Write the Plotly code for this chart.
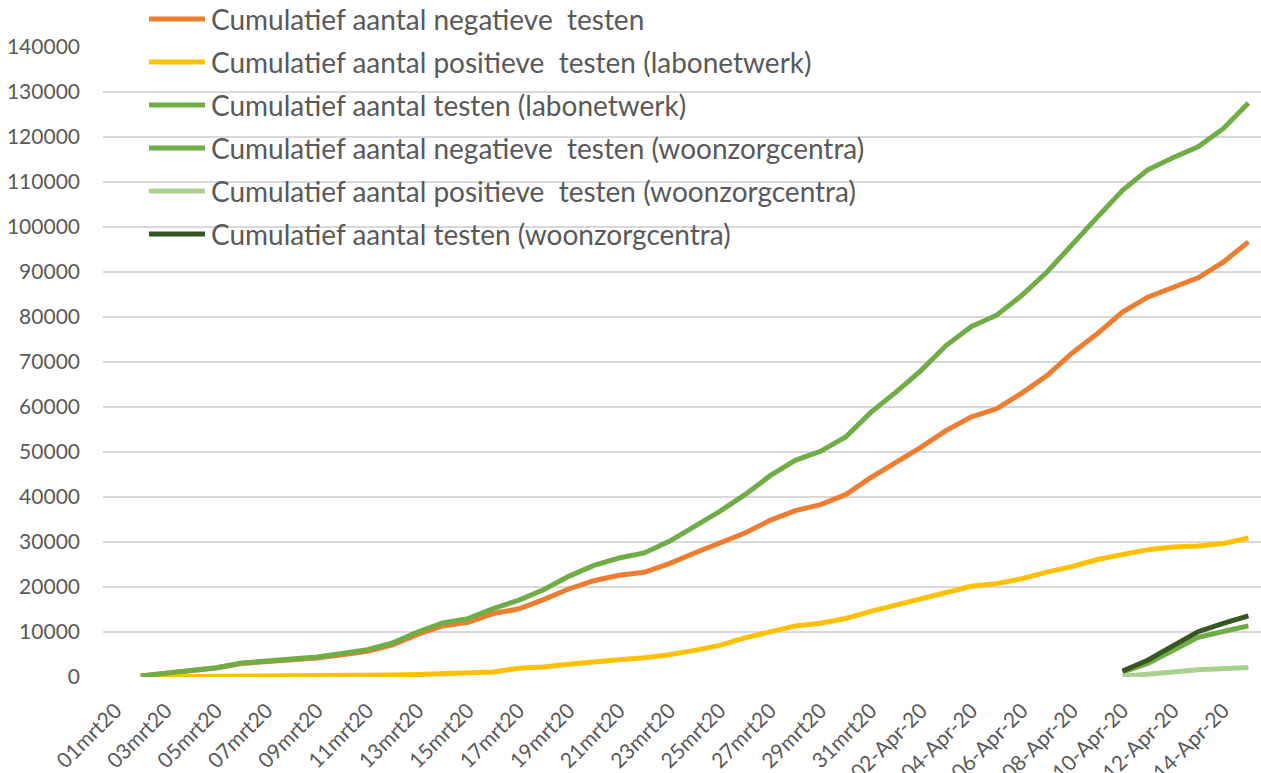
import plotly.graph_objects as go

# categorie-as: 01 maart t/m 15 april 2020
dagen = (
    [f'{d:02d}mrt20' for d in range(1, 32)]
    + [f'{d:02d}-Apr-20' for d in range(1, 16)]
)

# labonetwerk: waarden vanaf 02mrt20
lab_negatief = [
    230, 810, 1390, 1990, 2990, 3410, 3830, 4240, 4940, 5740,
    7130, 9460, 11340, 12160, 14100, 15100, 17200, 19560, 21400, 22600,
    23260, 25200, 27560, 29780, 32000, 34810, 36960, 38300, 40520, 44300,
    47600, 51100, 54800, 57800, 59600, 63100, 67000, 72000, 76300, 81100,
    84400, 86500, 88700, 92200, 96700,
]
lab_positief = [
    20, 40, 60, 80, 110, 140, 170, 200, 260, 330,
    420, 540, 660, 800, 1100, 1940, 2200, 2810, 3400, 3840,
    4300, 4950, 5920, 7020, 8700, 10150, 11350, 11950, 13000, 14600,
    16000, 17350, 19000, 20150, 20750, 21850, 23300, 24550, 26100, 27100,
    28300, 28900, 29100, 29650, 30900,
]
lab_totaal = [
    250, 850, 1450, 2070, 3100, 3550, 4000, 4440, 5200, 6070,
    7550, 10000, 12000, 12960, 15200, 17040, 19400, 22370, 24800, 26440,
    27560, 30150, 33480, 36800, 40520, 44740, 48150, 50150, 53330, 58800,
    63300, 68150, 73700, 77900, 80400, 84800, 90000, 96300, 102200, 108150,
    112700, 115400, 117800, 121850, 127550,
]

# woonzorgcentra: waarden vanaf 10-Apr-20
wzc_negatief = [1100, 3000, 5900, 8800, 10100, 11350]
wzc_positief = [150, 500, 1100, 1600, 1900, 2100]
wzc_totaal = [1340, 3730, 6900, 10070, 11900, 13580]

y_ticks = list(range(0, 140001, 10000))

series = [
    ('Cumulatief aantal negatieve\u00a0 testen', dagen[1:], lab_negatief, '#ED7D31'),
    ('Cumulatief aantal positieve\u00a0 testen (labonetwerk)', dagen[1:], lab_positief, '#FFC000'),
    ('Cumulatief aantal testen (labonetwerk)', dagen[1:], lab_totaal, '#70AD47'),
    ('Cumulatief aantal negatieve\u00a0 testen (woonzorgcentra)', dagen[40:], wzc_negatief, '#70AD47'),
    ('Cumulatief aantal positieve\u00a0 testen (woonzorgcentra)', dagen[40:], wzc_positief, '#A9D18E'),
    ('Cumulatief aantal testen (woonzorgcentra)', dagen[40:], wzc_totaal, '#375623'),
]

grey = '#595959'
W, H = 1261, 773
M = dict(l=103, r=0, t=47, b=96)
plot_w = W - M['l'] - M['r']
plot_h = H - M['t'] - M['b']

fig = go.Figure()
for name, x, y, color in series:
    fig.add_trace(go.Scatter(
        x=x, y=y, mode='lines', name=name,
        line=dict(color=color, width=5),
        showlegend=False,
    ))

# legend in Excel-stijl: lange lijnstukjes, rijen overlappen het rooster
def px_x(px):
    return (px - M['l']) / plot_w

def px_y(py):
    return (H - M['b'] - py) / plot_h

for i, (name, _, _, color) in enumerate(series):
    row_y = px_y(19 + 43 * i)
    fig.add_shape(
        type='line', xref='paper', yref='paper',
        x0=px_x(149), x1=px_x(205), y0=row_y, y1=row_y,
        line=dict(color=color, width=5),
    )
    fig.add_annotation(
        xref='paper', yref='paper', x=px_x(209), y=row_y,
        xanchor='left', yanchor='middle', showarrow=False,
        text=name, font=dict(size=28, color=grey),
    )

fig.update_layout(
    template='none',
    width=W, height=H, margin=M,
    paper_bgcolor='white', plot_bgcolor='white',
    font=dict(family='Lato', color=grey, size=21),
    showlegend=False,
    xaxis=dict(
        type='category', categoryorder='array', categoryarray=dagen,
        range=[-0.5, 45.5], automargin=False,
        tickmode='array', tickvals=dagen[::2], ticktext=dagen[::2],
        tickangle=-45, showgrid=False, showline=False, zeroline=False,
        ticks='outside', ticklen=12, tickcolor='rgba(0,0,0,0)',
    ),
    yaxis=dict(
        range=[0, 140000], tickvals=y_ticks, tickformat='d',
        automargin=False,
        showgrid=True, gridcolor='#D9D9D9', gridwidth=1.5,
        zeroline=False, showline=False,
        ticks='', ticklabelstandoff=22,
    ),
)

fig.write_html(
    'out.html',
    config={'displayModeBar': False},
    post_script="document.body.style.margin='0';document.body.style.overflow='hidden';",
)
